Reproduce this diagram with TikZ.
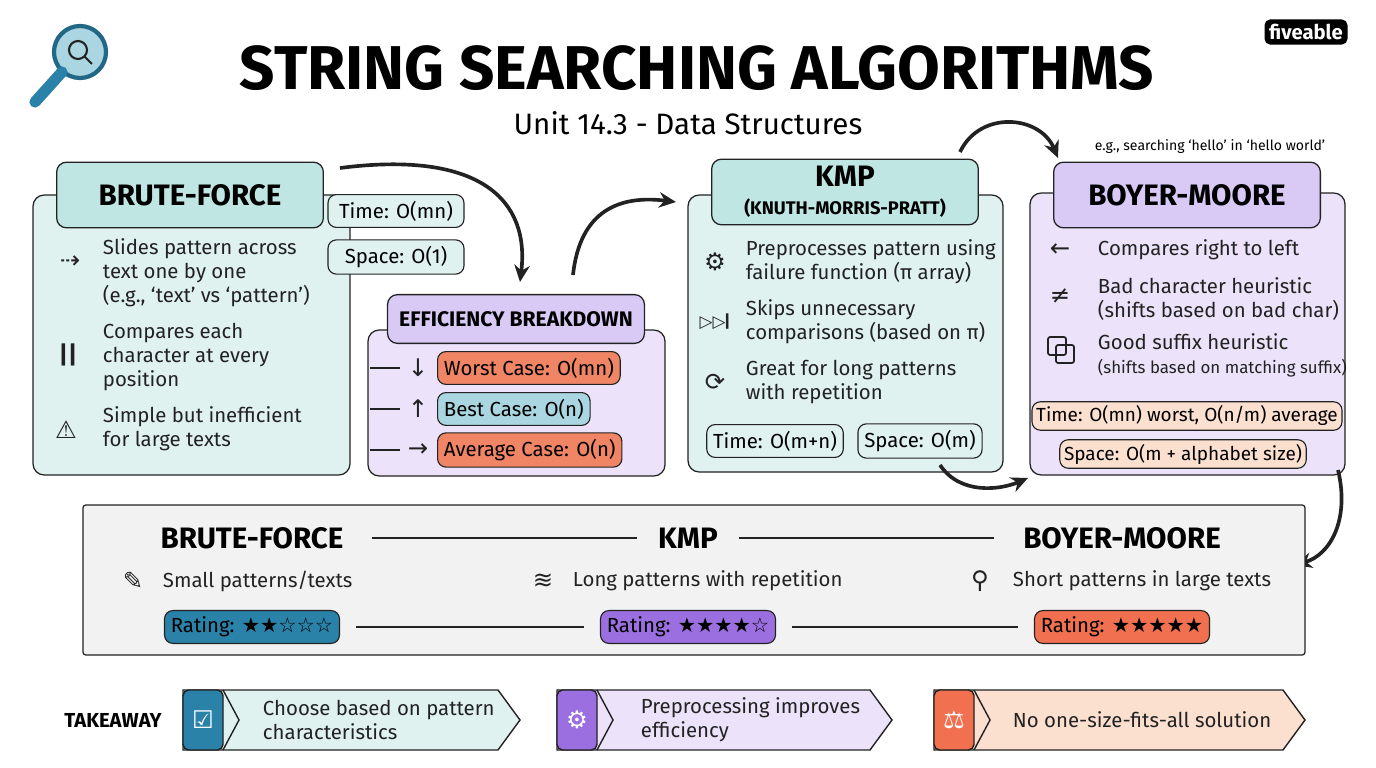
\documentclass[tikz,border=0pt]{standalone}
\usepackage{fontspec}
\setmainfont{Fira Sans}
\newfontfamily\symfont{DejaVu Sans}
\usetikzlibrary{arrows.meta,positioning,calc}
\definecolor{tealbg}{HTML}{DFF2F0}
\definecolor{tealhd}{HTML}{BFE6E3}
\definecolor{lavbg}{HTML}{ECE3FA}
\definecolor{lavhd}{HTML}{D9C9F5}
\definecolor{coral}{HTML}{F08566}
\definecolor{skyb}{HTML}{A9D6E0}
\definecolor{peach}{HTML}{FBE0D0}
\definecolor{rateblue}{HTML}{2B82A8}
\definecolor{ratepurp}{HTML}{9B6FE0}
\definecolor{ratecoral}{HTML}{F07050}
\definecolor{ink}{HTML}{222222}
\newcommand{\stars}[1]{{\symfont #1}}
\newcommand{\body}{\fontsize{14.5}{17}\selectfont}
\begin{document}
\begin{tikzpicture}
[x=0.025cm,y=-0.025cm,
panel/.style={draw=ink,line width=0.9pt,rounded corners=8pt},
head/.style={draw=ink,line width=0.9pt,rounded corners=7pt,align=center,font=\bfseries\fontsize{21}{23}\selectfont},
pill/.style={draw=ink,line width=0.8pt,rounded corners=6pt,inner sep=4.5pt,font=\body},
item/.style={anchor=west,align=left,font=\body,text=ink},
bigarrow/.style={-{Stealth[length=12pt,width=11pt]},line width=2.6pt,ink},
conn/.style={line width=1pt,ink},
icon/.style={font=\LARGE,text=ink}]
\useasboundingbox (0,0) rectangle (1376,768);
%%
% title
%%
\node[font=\bfseries\fontsize{44}{48}\selectfont] (title) at (697,68) {STRING SEARCHING ALGORITHMS};
\node[font=\fontsize{21}{25}\selectfont] (sub) at (688,123) {Unit 14.3 - Data Structures};
\draw[line width=3pt,draw=rateblue!80!black,fill=skyb] (80,52) circle (26);
\draw[line width=1.5pt,ink] (78,50) circle (9) (85,57) -- (92,64);
\draw[line width=8pt,rateblue,line cap=round] (62,72) -- (35,102);
\node[fill=black,text=white,rounded corners=4pt,font=\bfseries\Large] (logo) at (1306,32) {fiveable};
\node[font=\normalsize] (eg) at (1210,147) {e.g., searching `hello' in `hello world'};
%%
% Brute-force
%%
\draw[panel,fill=tealbg] (33,195) rectangle (350,475);
\node[head,fill=tealhd] (bfh) at (190,195) {\parbox[c][40pt][c]{183pt}{\centering BRUTE-FORCE}};
\node[pill,fill=tealbg,minimum width=3.4cm] (bft) at (396,211) {Time: O(mn)};
\node[pill,fill=tealbg,minimum width=3.4cm] (bfs) at (396,257) {Space: O(1)};
\node[item] (bf1) at (98,273) {Slides pattern across\\text one by one\\(e.g., `text' vs `pattern')};
\node[item] (bf2) at (98,357) {Compares each\\character at every\\position};
\node[item] (bf3) at (98,429) {Simple but inefficient\\for large texts};
\node[icon] (bfi1) at (70,262) {\stars{⇢}};
\node[icon] (bfi2) at (68,355) {\textbf{||}};
\node[icon] (bfi3) at (66,430) {\stars{⚠}};
%%
% Efficiency breakdown
%%
\draw[panel,fill=lavbg] (368,330) rectangle (665,476);
\node[head,fill=lavhd,font=\bfseries\fontsize{15}{18}\selectfont] (effh) at (516,319) {\parbox[c][28pt][c]{176pt}{\centering EFFICIENCY BREAKDOWN}};
\node[pill,fill=coral,anchor=west] (worst) at (437,368) {Worst Case: O(mn)};
\node[pill,fill=skyb,anchor=west] (best) at (437,409) {Best Case: O(n)};
\node[pill,fill=coral,anchor=west] (avg) at (437,450) {Average Case: O(n)};
\node[icon] (wi) at (418,368) {\stars{↓}};
\node[icon] (bi) at (418,409) {\stars{↑}};
\node[icon] (ai) at (418,450) {\stars{→}};
\foreach \y in {368,409,450} \draw[conn] (370,\y) -- (400,\y);
%%
% KMP
%%
\draw[panel,fill=tealbg] (688,195) rectangle (1003,472);
\node[head,fill=tealhd] (kmph) at (845,192) {\parbox[c][40pt][c]{183pt}{\centering KMP\\[-3pt]{\fontsize{13}{15}\selectfont\bfseries (KNUTH-MORRIS-PRATT)}}};
\node[item] (k1) at (741,262) {Preprocesses pattern using\\failure function (π array)};
\node[item] (k2) at (741,322) {Skips unnecessary\\comparisons (based on π)};
\node[item] (k3) at (741,382) {Great for long patterns\\with repetition};
\node[icon] (ki1) at (715,262) {\stars{⚙}};
\node[icon,font=\large] (ki2) at (715,322) {\stars{▷▷}\kern-1pt\textbf{|}};
\node[icon] (ki3) at (715,382) {\stars{⟳}};
\node[pill,fill=tealbg] (kt) at (775,441) {Time: O(m+n)};
\node[pill,fill=tealbg] (ks) at (920,441) {Space: O(m)};
%%
% Boyer-Moore
%%
\draw[panel,fill=lavbg] (1030,193) rectangle (1345,475);
\node[head,fill=lavhd] (bmh) at (1187,195) {\parbox[c][40pt][c]{183pt}{\centering BOYER-MOORE}};
\node[item] (b1) at (1093,250) {Compares right to left};
\node[item] (b2) at (1093,299) {Bad character heuristic\\(shifts based on bad char)};
\node[item,align=left] (b3) at (1093,355) {Good suffix heuristic\\{\fontsize{12}{14}\selectfont (shifts based on matching suffix)}};
\node[icon] (bi1) at (1060,250) {\stars{←}};
\node[icon] (bi2) at (1060,296) {\stars{≠}};
\draw[line width=1.2pt,ink,rounded corners=1.5pt] (1048,337) rectangle (1066,355) (1056,345) rectangle (1074,363);
\node[pill,fill=peach,inner sep=3pt,font=\fontsize{13.5}{16}\selectfont] (bt) at (1187,416) {Time: O(mn) worst, O(n/m) average};
\node[pill,fill=peach,inner sep=3pt,font=\fontsize{13.5}{16}\selectfont] (bs) at (1183,454) {Space: O(m + alphabet size)};
%%
% big arrows
%%
\draw[bigarrow] (340,168) .. controls (480,150) and (530,200) .. (520,282);
\draw[bigarrow] (573,275) .. controls (580,210) and (620,195) .. (676,202);
\draw[bigarrow] (960,152) .. controls (980,110) and (1040,115) .. (1058,158);
\draw[bigarrow] (940,465) .. controls (960,495) and (1000,490) .. (1028,478);
\draw[bigarrow] (1338,470) .. controls (1350,520) and (1330,555) .. (1295,565);
%%
% comparison
%%
\draw[panel,rounded corners=2pt,fill=black!5] (83,505) rectangle (1305,655);
\node[font=\bfseries\fontsize{21}{23}\selectfont] (cbf) at (252,538) {BRUTE-FORCE};
\node[font=\bfseries\fontsize{21}{23}\selectfont] (ckmp) at (688,538) {KMP};
\node[font=\bfseries\fontsize{21}{23}\selectfont] (cbm) at (1122,538) {BOYER-MOORE};
\draw[conn] ([xshift=0.6cm]cbf.east) -- ([xshift=-0.4cm]ckmp.west) ([xshift=0.4cm]ckmp.east) -- ([xshift=-0.6cm]cbm.west);
\node[item] (u1) at (158,581) {Small patterns/texts};
\node[item] (u2) at (568,581) {Long patterns with repetition};
\node[item] (u3) at (1008,581) {Short patterns in large texts};
\node[icon] (ui1) at (133,581) {\stars{✎}};
\node[icon] (ui2) at (543,581) {\stars{≋}};
\node[icon] (ui3) at (980,581) {\stars{⚲}};
\node[pill,fill=rateblue] (r1) at (252,627) {Rating: \stars{★★☆☆☆}};
\node[pill,fill=ratepurp] (r2) at (688,627) {Rating: \stars{★★★★☆}};
\node[pill,fill=ratecoral] (r3) at (1122,627) {Rating: \stars{★★★★★}};
\draw[conn] ([xshift=0.4cm]r1.east) -- ([xshift=-0.4cm]r2.west) ([xshift=0.4cm]r2.east) -- ([xshift=-0.4cm]r3.west);
%%
% takeaway
%%
\node[font=\bfseries\Large] (take) at (113,720) {TAKEAWAY};
\foreach \xa/\xb/\bg/\ic/\sym [count=\i] in {183/520/tealbg/rateblue/☑,557/892/lavbg/ratepurp/⚙,934/1305/peach/ratecoral/⚖}{
  \draw[conn,fill=\bg] (\xa,690) -- (\xb-22,690) -- (\xb,720) -- (\xb-22,750) -- (\xa,750) -- cycle;
  \draw[conn,fill=\ic,rounded corners=4pt] (\xa,690) rectangle (\xa+40,750);
  \node[text=white,font=\LARGE] (ti\i) at (\xa+20,720) {\stars{\sym}};
  \draw[conn] (\xa+40,690) -- (\xa+56,720) -- (\xa+40,750);
}
\node[item] (t1) at (258,720) {Choose based on pattern\\characteristics};
\node[item] (t2) at (636,720) {Preprocessing improves\\efficiency};
\node[item] (t3) at (1008,720) {No one-size-fits-all solution};
\end{tikzpicture}
\end{document}
